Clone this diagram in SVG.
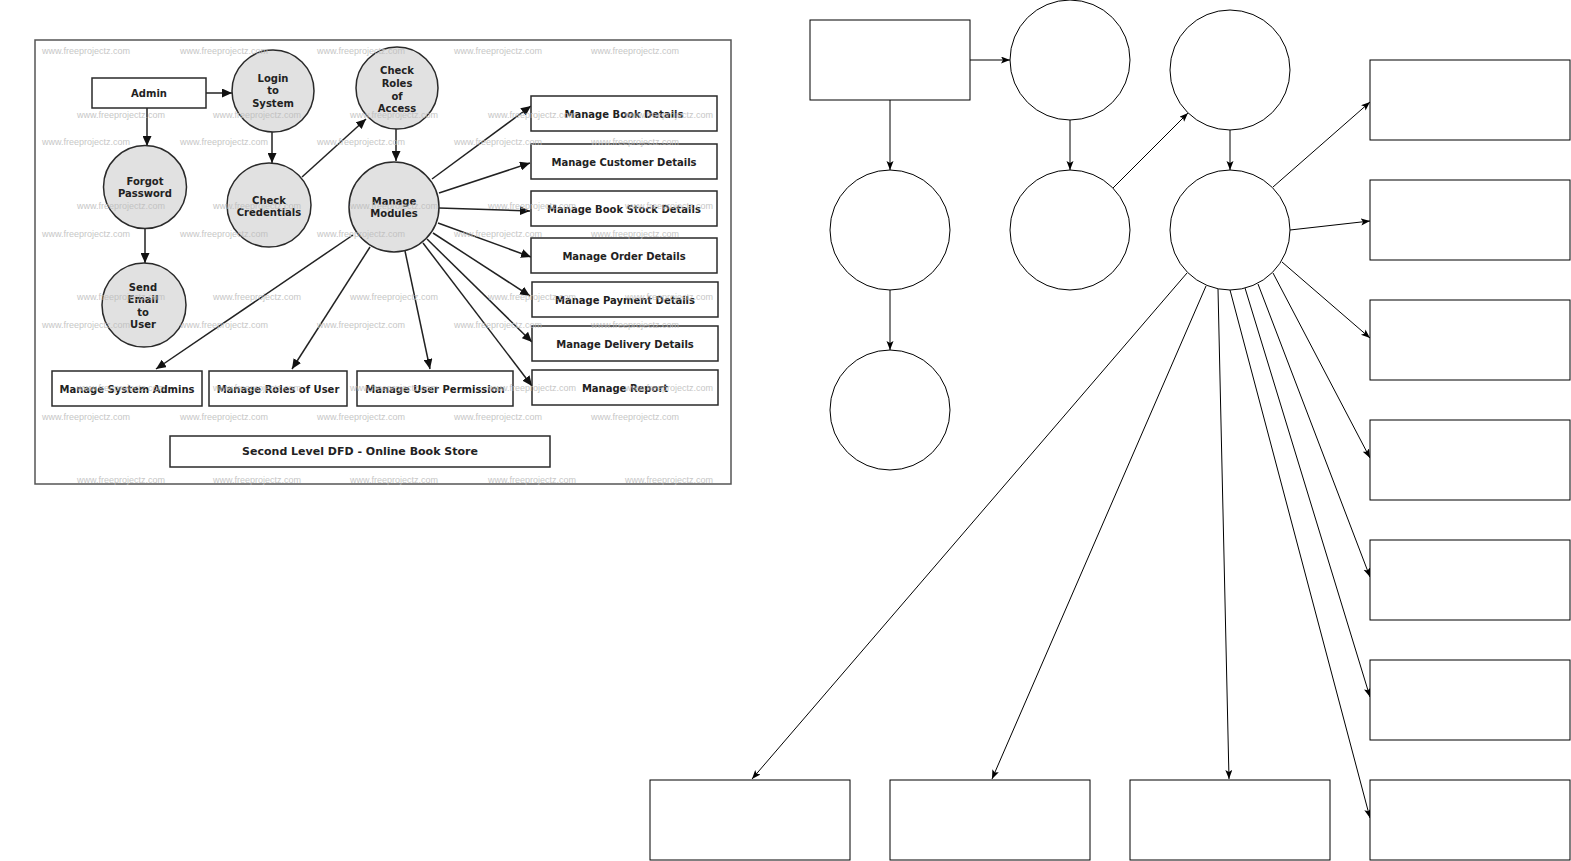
<svg xmlns="http://www.w3.org/2000/svg" width="1571" height="861" viewBox="0 0 1571 861">
<style>
.frame{fill:#fff;stroke:#555;stroke-width:1.5}
.lc{fill:#e1e1e1;stroke:#2a2a2a;stroke-width:1.5}
.lr{fill:#fff;stroke:#2a2a2a;stroke-width:1.5}
.lt{font-family:"DejaVu Sans",sans-serif;font-weight:bold;font-size:10px;fill:#222;text-anchor:middle;dominant-baseline:central}
.title{font-size:11px}
.wm{font-family:"Liberation Sans",Arial,sans-serif;font-size:9px;fill:#bdbdbd;opacity:0.85}
.le{fill:none;stroke:#222;stroke-width:1.5;marker-end:url(#la)}
.rn{fill:#fff;stroke:#000;stroke-width:1}
.re{fill:none;stroke:#000;stroke-width:1;marker-end:url(#ra)}
</style>
<defs>
<marker id="la" markerUnits="userSpaceOnUse" markerWidth="11" markerHeight="9" refX="10" refY="4.5" orient="auto"><path d="M0,0 L10,4.5 L0,9 z" fill="#111"/></marker>
<marker id="ra" markerUnits="userSpaceOnUse" markerWidth="10" markerHeight="8" refX="9" refY="3.5" orient="auto"><path d="M0,0 L9,3.5 L0,7 L2,3.5 z" fill="#000"/></marker>
</defs>
<rect width="1571" height="861" fill="#fff"/>

<g id="reference-image">
<rect class="frame" x="35" y="40" width="696" height="444"/>
<g id="l-connectors">
<path class="le" d="M206,93 L232,93"/>
<path class="le" d="M147,108 L147,146"/>
<path class="le" d="M272,132 L272,163"/>
<path class="le" d="M302,177 L366,119"/>
<path class="le" d="M396,128 L396,161"/>
<path class="le" d="M145,228 L145,263"/>
<path class="le" d="M432,179 L531,106"/>
<path class="le" d="M439,193 L530,163"/>
<path class="le" d="M439,208 L530,211"/>
<path class="le" d="M438,223 L531,257"/>
<path class="le" d="M433,233 L530,296"/>
<path class="le" d="M427,239 L532,342"/>
<path class="le" d="M423,243 L532,386"/>
<path class="le" d="M405,251 L430,369"/>
<path class="le" d="M370,247 L292,369"/>
<path class="le" d="M353,235 L156,369"/>
</g>
<g id="l-admin"><rect class="lr" x="92" y="78" width="114" height="30"/><text class="lt" x="149" y="93">Admin</text></g>
<g id="l-login"><circle class="lc" cx="273" cy="91" r="41"/><text class="lt" x="273" y="78">Login</text><text class="lt" x="273" y="90.5">to</text><text class="lt" x="273" y="103">System</text></g>
<g id="l-forgot"><circle class="lc" cx="145" cy="187" r="41.5"/><text class="lt" x="145" y="181">Forgot</text><text class="lt" x="145" y="193">Password</text></g>
<g id="l-checkcred"><circle class="lc" cx="269" cy="205" r="42"/><text class="lt" x="269" y="200">Check</text><text class="lt" x="269" y="212">Credentials</text></g>
<g id="l-checkroles"><circle class="lc" cx="397" cy="88" r="41"/><text class="lt" x="397" y="70">Check</text><text class="lt" x="397" y="83">Roles</text><text class="lt" x="397" y="96">of</text><text class="lt" x="397" y="108">Access</text></g>
<g id="l-modules"><circle class="lc" cx="394" cy="207" r="45"/><text class="lt" x="394" y="201">Manage</text><text class="lt" x="394" y="213">Modules</text></g>
<g id="l-sendemail"><circle class="lc" cx="144" cy="305" r="42"/><text class="lt" x="143" y="287">Send</text><text class="lt" x="143" y="299">Email</text><text class="lt" x="143" y="312">to</text><text class="lt" x="143" y="324">User</text></g>
<g id="l-bookdetails"><rect class="lr" x="531" y="96" width="186" height="35"/><text class="lt" x="624" y="114">Manage Book Details</text></g>
<g id="l-customer"><rect class="lr" x="531" y="144" width="186" height="35"/><text class="lt" x="624" y="162">Manage Customer Details</text></g>
<g id="l-stock"><rect class="lr" x="531" y="191" width="186" height="35"/><text class="lt" x="624" y="209">Manage Book Stock Details</text></g>
<g id="l-order"><rect class="lr" x="531" y="238" width="186" height="35"/><text class="lt" x="624" y="256">Manage Order Details</text></g>
<g id="l-payment"><rect class="lr" x="532" y="282" width="186" height="35"/><text class="lt" x="625" y="300">Manage Payment Details</text></g>
<g id="l-delivery"><rect class="lr" x="532" y="326" width="186" height="35"/><text class="lt" x="625" y="344">Manage Delivery Details</text></g>
<g id="l-report"><rect class="lr" x="532" y="370" width="186" height="35"/><text class="lt" x="625" y="388">Manage Report</text></g>
<g id="l-sysadmins"><rect class="lr" x="52" y="371" width="150" height="35"/><text class="lt" x="127" y="389">Manage System Admins</text></g>
<g id="l-roles"><rect class="lr" x="209" y="371" width="138" height="35"/><text class="lt" x="278" y="389">Manage Roles of User</text></g>
<g id="l-perm"><rect class="lr" x="357" y="371" width="156" height="35"/><text class="lt" x="435" y="389">Manage User Permission</text></g>
<g id="l-title"><rect class="lr" x="170" y="436" width="380" height="31"/><text class="lt title" x="360" y="451.5">Second Level DFD - Online Book Store</text></g>
<g id="watermarks" class="wm">
<text x="42" y="54">www.freeprojectz.com</text><text x="180" y="54">www.freeprojectz.com</text><text x="317" y="54">www.freeprojectz.com</text><text x="454" y="54">www.freeprojectz.com</text><text x="591" y="54">www.freeprojectz.com</text>
<text x="77" y="118">www.freeprojectz.com</text><text x="213" y="118">www.freeprojectz.com</text><text x="350" y="118">www.freeprojectz.com</text><text x="488" y="118">www.freeprojectz.com</text><text x="625" y="118">www.freeprojectz.com</text>
<text x="42" y="145">www.freeprojectz.com</text><text x="180" y="145">www.freeprojectz.com</text><text x="317" y="145">www.freeprojectz.com</text><text x="454" y="145">www.freeprojectz.com</text><text x="591" y="145">www.freeprojectz.com</text>
<text x="77" y="209">www.freeprojectz.com</text><text x="213" y="209">www.freeprojectz.com</text><text x="350" y="209">www.freeprojectz.com</text><text x="488" y="209">www.freeprojectz.com</text><text x="625" y="209">www.freeprojectz.com</text>
<text x="42" y="237">www.freeprojectz.com</text><text x="180" y="237">www.freeprojectz.com</text><text x="317" y="237">www.freeprojectz.com</text><text x="454" y="237">www.freeprojectz.com</text><text x="591" y="237">www.freeprojectz.com</text>
<text x="77" y="300">www.freeprojectz.com</text><text x="213" y="300">www.freeprojectz.com</text><text x="350" y="300">www.freeprojectz.com</text><text x="488" y="300">www.freeprojectz.com</text><text x="625" y="300">www.freeprojectz.com</text>
<text x="42" y="328">www.freeprojectz.com</text><text x="180" y="328">www.freeprojectz.com</text><text x="317" y="328">www.freeprojectz.com</text><text x="454" y="328">www.freeprojectz.com</text><text x="591" y="328">www.freeprojectz.com</text>
<text x="77" y="391">www.freeprojectz.com</text><text x="213" y="391">www.freeprojectz.com</text><text x="350" y="391">www.freeprojectz.com</text><text x="488" y="391">www.freeprojectz.com</text><text x="625" y="391">www.freeprojectz.com</text>
<text x="42" y="420">www.freeprojectz.com</text><text x="180" y="420">www.freeprojectz.com</text><text x="317" y="420">www.freeprojectz.com</text><text x="454" y="420">www.freeprojectz.com</text><text x="591" y="420">www.freeprojectz.com</text>
<text x="77" y="483">www.freeprojectz.com</text><text x="213" y="483">www.freeprojectz.com</text><text x="350" y="483">www.freeprojectz.com</text><text x="488" y="483">www.freeprojectz.com</text><text x="625" y="483">www.freeprojectz.com</text>
</g>
</g>

<g id="connectors">
<path class="re" d="M970,60 L1010,60"/>
<path class="re" d="M890,100 L890,170"/>
<path class="re" d="M1070,120 L1070,170"/>
<path class="re" d="M1113,188 L1188,113"/>
<path class="re" d="M1230,130 L1230,170"/>
<path class="re" d="M890,290 L890,350"/>
<path class="re" d="M1273,187 L1370,102"/>
<path class="re" d="M1290,230 L1370,221"/>
<path class="re" d="M1282,262 L1370,338"/>
<path class="re" d="M1273,273 L1370,458"/>
<path class="re" d="M1258,284 L1370,577"/>
<path class="re" d="M1245,288 L1370,697"/>
<path class="re" d="M1230,290 L1370,818"/>
<path class="re" d="M1187,273 L752,779"/>
<path class="re" d="M1206,286 L992,779"/>
<path class="re" d="M1218,289 L1229,779"/>
</g>
<g id="admin"><rect class="rn" x="810" y="20" width="160" height="80"/></g>
<g id="login"><circle class="rn" cx="1070" cy="60" r="60"/></g>
<g id="checkroles"><circle class="rn" cx="1230" cy="70" r="60"/></g>
<g id="forgot"><circle class="rn" cx="890" cy="230" r="60"/></g>
<g id="checkcred"><circle class="rn" cx="1070" cy="230" r="60"/></g>
<g id="modules"><circle class="rn" cx="1230" cy="230" r="60"/></g>
<g id="sendemail"><circle class="rn" cx="890" cy="410" r="60"/></g>
<g id="bookdetails"><rect class="rn" x="1370" y="60" width="200" height="80"/></g>
<g id="customer"><rect class="rn" x="1370" y="180" width="200" height="80"/></g>
<g id="stock"><rect class="rn" x="1370" y="300" width="200" height="80"/></g>
<g id="order"><rect class="rn" x="1370" y="420" width="200" height="80"/></g>
<g id="payment"><rect class="rn" x="1370" y="540" width="200" height="80"/></g>
<g id="delivery"><rect class="rn" x="1370" y="660" width="200" height="80"/></g>
<g id="report"><rect class="rn" x="1370" y="780" width="200" height="80"/></g>
<g id="sysadmins"><rect class="rn" x="650" y="780" width="200" height="80"/></g>
<g id="roles"><rect class="rn" x="890" y="780" width="200" height="80"/></g>
<g id="perm"><rect class="rn" x="1130" y="780" width="200" height="80"/></g>
</svg>
